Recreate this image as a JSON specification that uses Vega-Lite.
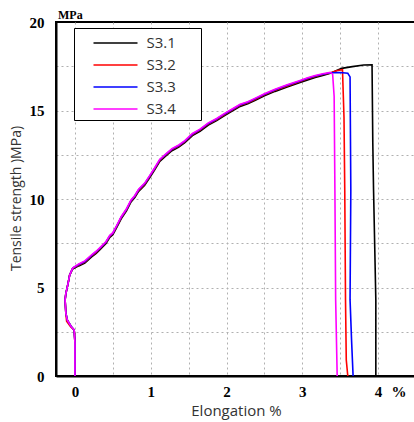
{
  "$schema": "https://vega.github.io/schema/vega-lite/v6.json",
  "width": 360,
  "height": 354,
  "autosize": {"type": "none"},
  "padding": {"left": 56, "top": 22, "right": 0, "bottom": 46},
  "background": "white",
  "title": {"text": "MPa", "anchor": "start", "frame": "group", "font": "Liberation Serif", "fontSize": 12, "fontWeight": "bold", "color": "black", "offset": -7, "dx": 2},
  "config": {"view": {"stroke": "black", "strokeWidth": 2}},
  "data": {"values": [
    {"s":"S3.1","i":0,"x":0,"y":0},{"s":"S3.1","i":1,"x":0,"y":1.9},{"s":"S3.1","i":2,"x":-0.01,"y":2.6},{"s":"S3.1","i":3,"x":-0.05,"y":2.8},{"s":"S3.1","i":4,"x":-0.1,"y":3.15},{"s":"S3.1","i":5,"x":-0.12,"y":3.55},{"s":"S3.1","i":6,"x":-0.13,"y":4.3},{"s":"S3.1","i":7,"x":-0.12,"y":4.65},{"s":"S3.1","i":8,"x":-0.09,"y":5.25},{"s":"S3.1","i":9,"x":-0.07,"y":5.7},{"s":"S3.1","i":10,"x":-0.03,"y":6.05},{"s":"S3.1","i":11,"x":0.05,"y":6.22},{"s":"S3.1","i":12,"x":0.13,"y":6.38},{"s":"S3.1","i":13,"x":0.22,"y":6.73},{"s":"S3.1","i":14,"x":0.28,"y":6.93},{"s":"S3.1","i":15,"x":0.33,"y":7.13},{"s":"S3.1","i":16,"x":0.41,"y":7.48},{"s":"S3.1","i":17,"x":0.46,"y":7.83},{"s":"S3.1","i":18,"x":0.5,"y":7.98},{"s":"S3.1","i":19,"x":0.55,"y":8.38},{"s":"S3.1","i":20,"x":0.61,"y":8.88},{"s":"S3.1","i":21,"x":0.68,"y":9.33},{"s":"S3.1","i":22,"x":0.74,"y":9.83},{"s":"S3.1","i":23,"x":0.79,"y":10.08},{"s":"S3.1","i":24,"x":0.84,"y":10.43},{"s":"S3.1","i":25,"x":0.92,"y":10.78},{"s":"S3.1","i":26,"x":0.99,"y":11.23},{"s":"S3.1","i":27,"x":1.05,"y":11.63},{"s":"S3.1","i":28,"x":1.12,"y":12.13},{"s":"S3.1","i":29,"x":1.2,"y":12.43},{"s":"S3.1","i":30,"x":1.28,"y":12.73},{"s":"S3.1","i":31,"x":1.37,"y":12.93},{"s":"S3.1","i":32,"x":1.45,"y":13.18},{"s":"S3.1","i":33,"x":1.55,"y":13.58},{"s":"S3.1","i":34,"x":1.65,"y":13.83},{"s":"S3.1","i":35,"x":1.76,"y":14.18},{"s":"S3.1","i":36,"x":1.87,"y":14.43},{"s":"S3.1","i":37,"x":1.98,"y":14.73},{"s":"S3.1","i":38,"x":2.08,"y":14.98},{"s":"S3.1","i":39,"x":2.18,"y":15.23},{"s":"S3.1","i":40,"x":2.28,"y":15.38},{"s":"S3.1","i":41,"x":2.38,"y":15.58},{"s":"S3.1","i":42,"x":2.5,"y":15.83},{"s":"S3.1","i":43,"x":2.64,"y":16.08},{"s":"S3.1","i":44,"x":2.8,"y":16.33},{"s":"S3.1","i":45,"x":2.97,"y":16.58},{"s":"S3.1","i":46,"x":3.07,"y":16.73},{"s":"S3.1","i":47,"x":3.17,"y":16.86},{"s":"S3.1","i":48,"x":3.27,"y":16.98},{"s":"S3.1","i":49,"x":3.37,"y":17.1},{"s":"S3.1","i":50,"x":3.52,"y":17.38},{"s":"S3.1","i":51,"x":3.66,"y":17.48},{"s":"S3.1","i":52,"x":3.81,"y":17.57},{"s":"S3.1","i":53,"x":3.92,"y":17.58},{"s":"S3.1","i":54,"x":3.93,"y":13.15},{"s":"S3.1","i":55,"x":3.94,"y":10.5},{"s":"S3.1","i":56,"x":3.97,"y":4.3},{"s":"S3.1","i":57,"x":3.97,"y":0},

    {"s":"S3.2","i":0,"x":0,"y":0},{"s":"S3.2","i":1,"x":0,"y":1.9},{"s":"S3.2","i":2,"x":-0.01,"y":2.6},{"s":"S3.2","i":3,"x":-0.06,"y":2.8},{"s":"S3.2","i":4,"x":-0.11,"y":3.1},{"s":"S3.2","i":5,"x":-0.12,"y":3.55},{"s":"S3.2","i":6,"x":-0.13,"y":4.3},{"s":"S3.2","i":7,"x":-0.12,"y":4.65},{"s":"S3.2","i":8,"x":-0.09,"y":5.25},{"s":"S3.2","i":9,"x":-0.07,"y":5.7},{"s":"S3.2","i":10,"x":-0.03,"y":6.08},{"s":"S3.2","i":11,"x":0.05,"y":6.27},{"s":"S3.2","i":12,"x":0.13,"y":6.44},{"s":"S3.2","i":13,"x":0.22,"y":6.79},{"s":"S3.2","i":14,"x":0.28,"y":6.99},{"s":"S3.2","i":15,"x":0.33,"y":7.19},{"s":"S3.2","i":16,"x":0.41,"y":7.54},{"s":"S3.2","i":17,"x":0.46,"y":7.89},{"s":"S3.2","i":18,"x":0.5,"y":8.04},{"s":"S3.2","i":19,"x":0.55,"y":8.44},{"s":"S3.2","i":20,"x":0.61,"y":8.94},{"s":"S3.2","i":21,"x":0.68,"y":9.39},{"s":"S3.2","i":22,"x":0.74,"y":9.89},{"s":"S3.2","i":23,"x":0.79,"y":10.14},{"s":"S3.2","i":24,"x":0.84,"y":10.49},{"s":"S3.2","i":25,"x":0.92,"y":10.84},{"s":"S3.2","i":26,"x":0.99,"y":11.29},{"s":"S3.2","i":27,"x":1.05,"y":11.69},{"s":"S3.2","i":28,"x":1.12,"y":12.19},{"s":"S3.2","i":29,"x":1.2,"y":12.49},{"s":"S3.2","i":30,"x":1.28,"y":12.79},{"s":"S3.2","i":31,"x":1.37,"y":12.99},{"s":"S3.2","i":32,"x":1.45,"y":13.24},{"s":"S3.2","i":33,"x":1.55,"y":13.64},{"s":"S3.2","i":34,"x":1.65,"y":13.89},{"s":"S3.2","i":35,"x":1.76,"y":14.24},{"s":"S3.2","i":36,"x":1.87,"y":14.49},{"s":"S3.2","i":37,"x":1.98,"y":14.79},{"s":"S3.2","i":38,"x":2.08,"y":15.04},{"s":"S3.2","i":39,"x":2.18,"y":15.29},{"s":"S3.2","i":40,"x":2.28,"y":15.44},{"s":"S3.2","i":41,"x":2.38,"y":15.64},{"s":"S3.2","i":42,"x":2.5,"y":15.89},{"s":"S3.2","i":43,"x":2.64,"y":16.14},{"s":"S3.2","i":44,"x":2.8,"y":16.39},{"s":"S3.2","i":45,"x":2.97,"y":16.64},{"s":"S3.2","i":46,"x":3.07,"y":16.79},{"s":"S3.2","i":47,"x":3.17,"y":16.92},{"s":"S3.2","i":48,"x":3.27,"y":17.03},{"s":"S3.2","i":49,"x":3.37,"y":17.12},{"s":"S3.2","i":50,"x":3.45,"y":17.25},{"s":"S3.2","i":51,"x":3.53,"y":17.3},{"s":"S3.2","i":52,"x":3.55,"y":14.6},{"s":"S3.2","i":53,"x":3.56,"y":10.5},{"s":"S3.2","i":54,"x":3.57,"y":4.3},{"s":"S3.2","i":55,"x":3.58,"y":0.9},{"s":"S3.2","i":56,"x":3.6,"y":0},

    {"s":"S3.3","i":0,"x":0,"y":0},{"s":"S3.3","i":1,"x":0,"y":1.9},{"s":"S3.3","i":2,"x":-0.01,"y":2.6},{"s":"S3.3","i":3,"x":-0.05,"y":2.8},{"s":"S3.3","i":4,"x":-0.1,"y":3.15},{"s":"S3.3","i":5,"x":-0.12,"y":3.55},{"s":"S3.3","i":6,"x":-0.13,"y":4.3},{"s":"S3.3","i":7,"x":-0.12,"y":4.65},{"s":"S3.3","i":8,"x":-0.09,"y":5.25},{"s":"S3.3","i":9,"x":-0.07,"y":5.7},{"s":"S3.3","i":10,"x":-0.03,"y":6.1},{"s":"S3.3","i":11,"x":0.05,"y":6.3},{"s":"S3.3","i":12,"x":0.13,"y":6.47},{"s":"S3.3","i":13,"x":0.22,"y":6.82},{"s":"S3.3","i":14,"x":0.28,"y":7.02},{"s":"S3.3","i":15,"x":0.33,"y":7.22},{"s":"S3.3","i":16,"x":0.41,"y":7.57},{"s":"S3.3","i":17,"x":0.46,"y":7.92},{"s":"S3.3","i":18,"x":0.5,"y":8.07},{"s":"S3.3","i":19,"x":0.55,"y":8.47},{"s":"S3.3","i":20,"x":0.61,"y":8.97},{"s":"S3.3","i":21,"x":0.68,"y":9.42},{"s":"S3.3","i":22,"x":0.74,"y":9.92},{"s":"S3.3","i":23,"x":0.79,"y":10.17},{"s":"S3.3","i":24,"x":0.84,"y":10.52},{"s":"S3.3","i":25,"x":0.92,"y":10.87},{"s":"S3.3","i":26,"x":0.99,"y":11.32},{"s":"S3.3","i":27,"x":1.05,"y":11.72},{"s":"S3.3","i":28,"x":1.12,"y":12.22},{"s":"S3.3","i":29,"x":1.2,"y":12.52},{"s":"S3.3","i":30,"x":1.28,"y":12.82},{"s":"S3.3","i":31,"x":1.37,"y":13.02},{"s":"S3.3","i":32,"x":1.45,"y":13.27},{"s":"S3.3","i":33,"x":1.55,"y":13.67},{"s":"S3.3","i":34,"x":1.65,"y":13.92},{"s":"S3.3","i":35,"x":1.76,"y":14.27},{"s":"S3.3","i":36,"x":1.87,"y":14.52},{"s":"S3.3","i":37,"x":1.98,"y":14.82},{"s":"S3.3","i":38,"x":2.08,"y":15.07},{"s":"S3.3","i":39,"x":2.18,"y":15.32},{"s":"S3.3","i":40,"x":2.28,"y":15.47},{"s":"S3.3","i":41,"x":2.38,"y":15.67},{"s":"S3.3","i":42,"x":2.5,"y":15.92},{"s":"S3.3","i":43,"x":2.64,"y":16.17},{"s":"S3.3","i":44,"x":2.8,"y":16.42},{"s":"S3.3","i":45,"x":2.97,"y":16.67},{"s":"S3.3","i":46,"x":3.07,"y":16.82},{"s":"S3.3","i":47,"x":3.17,"y":16.95},{"s":"S3.3","i":48,"x":3.27,"y":17.05},{"s":"S3.3","i":49,"x":3.37,"y":17.13},{"s":"S3.3","i":50,"x":3.5,"y":17.15},{"s":"S3.3","i":51,"x":3.6,"y":17.1},{"s":"S3.3","i":52,"x":3.63,"y":16.9},{"s":"S3.3","i":53,"x":3.64,"y":10.5},{"s":"S3.3","i":54,"x":3.63,"y":4.3},{"s":"S3.3","i":55,"x":3.65,"y":2.0},{"s":"S3.3","i":56,"x":3.67,"y":0},

    {"s":"S3.4","i":0,"x":0,"y":0},{"s":"S3.4","i":1,"x":0,"y":1.9},{"s":"S3.4","i":2,"x":-0.01,"y":2.6},{"s":"S3.4","i":3,"x":-0.05,"y":2.8},{"s":"S3.4","i":4,"x":-0.1,"y":3.15},{"s":"S3.4","i":5,"x":-0.12,"y":3.55},{"s":"S3.4","i":6,"x":-0.13,"y":4.3},{"s":"S3.4","i":7,"x":-0.12,"y":4.65},{"s":"S3.4","i":8,"x":-0.09,"y":5.25},{"s":"S3.4","i":9,"x":-0.07,"y":5.7},{"s":"S3.4","i":10,"x":-0.03,"y":6.1},{"s":"S3.4","i":11,"x":0.05,"y":6.33},{"s":"S3.4","i":12,"x":0.13,"y":6.5},{"s":"S3.4","i":13,"x":0.22,"y":6.85},{"s":"S3.4","i":14,"x":0.28,"y":7.05},{"s":"S3.4","i":15,"x":0.33,"y":7.25},{"s":"S3.4","i":16,"x":0.41,"y":7.6},{"s":"S3.4","i":17,"x":0.46,"y":7.95},{"s":"S3.4","i":18,"x":0.5,"y":8.1},{"s":"S3.4","i":19,"x":0.55,"y":8.5},{"s":"S3.4","i":20,"x":0.61,"y":9.0},{"s":"S3.4","i":21,"x":0.68,"y":9.45},{"s":"S3.4","i":22,"x":0.74,"y":9.95},{"s":"S3.4","i":23,"x":0.79,"y":10.2},{"s":"S3.4","i":24,"x":0.84,"y":10.55},{"s":"S3.4","i":25,"x":0.92,"y":10.9},{"s":"S3.4","i":26,"x":0.99,"y":11.35},{"s":"S3.4","i":27,"x":1.05,"y":11.75},{"s":"S3.4","i":28,"x":1.12,"y":12.25},{"s":"S3.4","i":29,"x":1.2,"y":12.55},{"s":"S3.4","i":30,"x":1.28,"y":12.85},{"s":"S3.4","i":31,"x":1.37,"y":13.05},{"s":"S3.4","i":32,"x":1.45,"y":13.3},{"s":"S3.4","i":33,"x":1.55,"y":13.7},{"s":"S3.4","i":34,"x":1.65,"y":13.95},{"s":"S3.4","i":35,"x":1.76,"y":14.3},{"s":"S3.4","i":36,"x":1.87,"y":14.55},{"s":"S3.4","i":37,"x":1.98,"y":14.85},{"s":"S3.4","i":38,"x":2.08,"y":15.1},{"s":"S3.4","i":39,"x":2.18,"y":15.35},{"s":"S3.4","i":40,"x":2.28,"y":15.5},{"s":"S3.4","i":41,"x":2.38,"y":15.7},{"s":"S3.4","i":42,"x":2.5,"y":15.95},{"s":"S3.4","i":43,"x":2.64,"y":16.2},{"s":"S3.4","i":44,"x":2.8,"y":16.45},{"s":"S3.4","i":45,"x":2.97,"y":16.7},{"s":"S3.4","i":46,"x":3.07,"y":16.85},{"s":"S3.4","i":47,"x":3.17,"y":16.98},{"s":"S3.4","i":48,"x":3.27,"y":17.08},{"s":"S3.4","i":49,"x":3.37,"y":17.15},{"s":"S3.4","i":50,"x":3.4,"y":17.05},{"s":"S3.4","i":51,"x":3.42,"y":15.8},{"s":"S3.4","i":52,"x":3.43,"y":10.5},{"s":"S3.4","i":53,"x":3.44,"y":4.3},{"s":"S3.4","i":54,"x":3.46,"y":0}
  ]},
  "mark": {"type": "line", "strokeWidth": 1.6},
  "encoding": {
    "x": {"field": "x", "type": "quantitative",
      "scale": {"domain": [-0.25, 4.5], "nice": false, "zero": false},
      "axis": {"title": "Elongation %", "values": [0, 0.5, 1, 1.5, 2, 2.5, 3, 3.5, 4, 4.27],
        "labelExpr": "datum.value > 4.2 ? '%' : (datum.value % 1 == 0 ? format(datum.value, 'd') : '')",
        "ticks": false, "domainColor": "black", "domainWidth": 2,
        "labelFont": "Liberation Serif", "labelFontWeight": "bold", "labelFontSize": 15, "labelColor": "black",
        "labelPadding": 8, "labelOverlap": false, "labelFlush": false,
        "grid": true, "gridDash": [2, 3], "gridWidth": 1,
        "gridColor": {"condition": {"test": "datum.value > 4.2", "value": "transparent"}, "value": "#b0b0b0"},
        "titleFont": "Open Sans", "titleFontSize": 15, "titleFontWeight": "normal", "titleColor": "#333333",
        "titleY": 34, "titleBaseline": "middle"}},
    "y": {"field": "y", "type": "quantitative",
      "scale": {"domain": [0, 20], "nice": false},
      "axis": {"title": "Tensile strength )MPa)", "values": [0, 2.5, 5, 7.5, 10, 12.5, 15, 17.5, 20],
        "labelExpr": "datum.value % 5 == 0 ? format(datum.value, 'd') : ''",
        "ticks": false, "domainColor": "black", "domainWidth": 2,
        "labelFont": "Liberation Serif", "labelFontWeight": "bold", "labelFontSize": 15, "labelColor": "black",
        "labelPadding": 12, "labelOverlap": false, "labelFlush": false,
        "grid": true, "gridDash": [2, 3], "gridWidth": 1,
        "gridColor": {"condition": {"test": "datum.value == 0 || datum.value == 20", "value": "transparent"}, "value": "#b0b0b0"},
        "titleFont": "Open Sans", "titleFontSize": 14, "titleFontWeight": "normal", "titleColor": "#333333",
        "titleX": -40, "titleY": 176, "titleAngle": -90, "titleAlign": "center", "titleBaseline": "middle"}},
    "color": {"field": "s", "type": "nominal",
      "scale": {"domain": ["S3.1", "S3.2", "S3.3", "S3.4"], "range": ["#000000", "#ff0000", "#0000ff", "#ff00ff"]},
      "legend": {"orient": "none", "legendX": 18, "legendY": 6, "title": null,
        "symbolType": "M-2,0H2", "symbolSize": 484, "symbolStrokeWidth": 1.6,
        "symbolOffset": 26.5, "labelOffset": 19, "padding": 3, "rowPadding": 2,
        "strokeColor": "black", "fillColor": "white",
        "labelFont": "Open Sans", "labelFontSize": 15, "labelColor": "#333333",
        "labelExpr": "datum.label + '\u2800\u2800'"}},
    "order": {"field": "i", "type": "quantitative"}
  }
}
